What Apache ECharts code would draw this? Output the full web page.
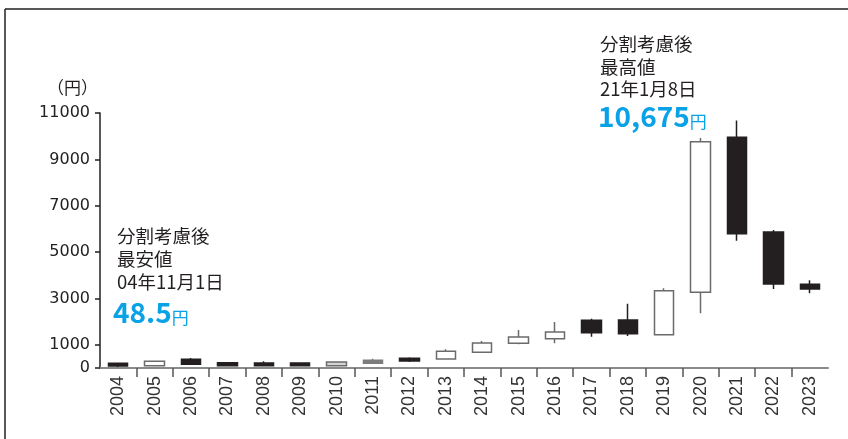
<!DOCTYPE html>
<html>
<head>
<meta charset="utf-8">
<script src="https://cdn.jsdelivr.net/npm/echarts@6/dist/echarts.min.js"></script>
<style>
  html, body { margin: 0; padding: 0; background: #fff; }
  #chart { width: 848px; height: 439px; }
</style>
</head>
<body>
<div id="chart"></div>
<script>
const categories = ['2004','2005','2006','2007','2008','2009','2010','2011','2012','2013','2014','2015','2016','2017','2018','2019','2020','2021','2022','2023'];
const openVals  = [200, 100, 375, 230, 220, 215, 100, 330, 420, 390, 680, 1065, 1265, 2060, 2070, 1435, 3265, 9955, 5865, 3610];
const closeVals = [90, 290, 160, 100, 100, 100, 260, 200, 300, 720, 1080, 1335, 1550, 1520, 1480, 3335, 9765, 5795, 3625, 3410];
const lowVals   = [48.5, 90, 150, 90, 90, 90, 90, 190, 260, 380, 670, 1020, 1065, 1350, 1380, 1430, 2360, 5490, 3410, 3225];
const highVals  = [210, 300, 430, 260, 290, 220, 270, 400, 460, 805, 1165, 1640, 1985, 2125, 2775, 3440, 9920, 10675, 5955, 3785];
const yTickValues = [0, 1000, 3000, 5000, 7000, 9000, 11000];
const xBoundaryTicks = [1,2,3,4,5,6,7,8,9,10,11,12,13,14,15,16,17,18,19];

const grayItems = {
  '2010': { color: '#d4d4d4', borderColor: '#6b6b6b' },
  '2011': { color: '#7d7d7d', borderColor: '#7d7d7d', color0: '#7d7d7d', borderColor0: '#7d7d7d' }
};

const candleData = categories.map((c, i) => {
  const item = { value: [openVals[i], closeVals[i], lowVals[i], highVals[i]] };
  if (grayItems[c]) item.itemStyle = grayItems[c];
  return item;
});

const CJK = "'Noto Sans CJK JP', 'Noto Sans', sans-serif";
const BLUE = '#0aa2e6';
const TXT = '#231f20';

const chart = echarts.init(document.getElementById('chart'), null, { renderer: 'canvas' });
chart.setOption({
  animation: false,
  backgroundColor: '#fff',
  grid: { left: 100, right: 20, top: 113, bottom: 71, containLabel: false },
  xAxis: [
    {
      type: 'category',
      data: categories,
      boundaryGap: true,
      axisLine: { show: true, lineStyle: { color: '#8a8a8a', width: 2 } },
      axisTick: { show: false },
      axisLabel: {
        rotate: 90, margin: 8, fontSize: 18, color: '#333',
        fontFamily: "'Liberation Sans Narrow', 'Liberation Sans', sans-serif"
      },
      splitLine: { show: false }
    },
    {
      type: 'value',
      min: 0, max: 20, interval: 1,
      position: 'bottom',
      axisLine: { show: false },
      axisLabel: { show: false },
      splitLine: { show: false },
      axisTick: { show: true, length: 9, customValues: xBoundaryTicks, lineStyle: { color: '#555', width: 1.5 } }
    }
  ],
  yAxis: {
    type: 'value',
    min: 0, max: 11000, interval: 1000,
    axisLine: { show: true, lineStyle: { color: TXT, width: 1.5 } },
    axisTick: { show: true, length: 5, customValues: yTickValues, lineStyle: { color: TXT, width: 1.5 } },
    axisLabel: {
      customValues: yTickValues, margin: 10, fontSize: 16, color: '#222',
      fontFamily: "'DejaVu Sans', sans-serif",
      formatter: function (v) { return String(v); }
    },
    splitLine: { show: false }
  },
  series: [{
    type: 'candlestick',
    xAxisIndex: 0,
    barWidth: 20,
    data: candleData,
    itemStyle: {
      color: '#ffffff', color0: '#231f20',
      borderColor: '#6b6b6b', borderColor0: '#231f20',
      borderWidth: 1.5
    }
  }],
  graphic: [
    { type: 'line', shape: { x1: 5, y1: 9, x2: 848, y2: 9 }, style: { stroke: TXT, lineWidth: 1.5 } },
    { type: 'line', shape: { x1: 5, y1: 9, x2: 5, y2: 439 }, style: { stroke: TXT, lineWidth: 1.5 } },
    { type: 'text', style: { text: '（円）', x: 47, y: 88, fill: TXT, font: "17px " + CJK, verticalAlign: 'middle' } },

    { type: 'text', style: { text: '分割考慮後', x: 117, y: 236, fill: TXT, font: "18.5px " + CJK, verticalAlign: 'middle' } },
    { type: 'text', style: { text: '最安値', x: 117, y: 259, fill: TXT, font: "18.5px " + CJK, verticalAlign: 'middle' } },
    { type: 'text', style: { text: '04年11月1日', x: 117, y: 282, fill: TXT, font: "18.5px " + CJK, verticalAlign: 'middle' } },
    { type: 'text', style: {
      text: '{b|48.5}{s|円}', x: 113, y: 311, verticalAlign: 'middle',
      rich: {
        b: { fontSize: 28, fontWeight: 'bold', fill: BLUE, color: BLUE, fontFamily: CJK, verticalAlign: 'bottom', lineHeight: 30 },
        s: { fontSize: 17, fill: BLUE, color: BLUE, fontFamily: CJK, verticalAlign: 'bottom', lineHeight: 30 }
      }
    } },

    { type: 'text', style: { text: '分割考慮後', x: 600, y: 44, fill: TXT, font: "18.5px " + CJK, verticalAlign: 'middle' } },
    { type: 'text', style: { text: '最高値', x: 600, y: 67, fill: TXT, font: "18.5px " + CJK, verticalAlign: 'middle' } },
    { type: 'text', style: { text: '21年1月8日', x: 600, y: 89, fill: TXT, font: "18.5px " + CJK, verticalAlign: 'middle' } },
    { type: 'text', style: {
      text: '{b|10,675}{s|円}', x: 598, y: 115, verticalAlign: 'middle',
      rich: {
        b: { fontSize: 28, fontWeight: 'bold', fill: BLUE, color: BLUE, fontFamily: CJK, verticalAlign: 'bottom', lineHeight: 30 },
        s: { fontSize: 17, fill: BLUE, color: BLUE, fontFamily: CJK, verticalAlign: 'bottom', lineHeight: 30 }
      }
    } }
  ]
});
</script>
</body>
</html>
